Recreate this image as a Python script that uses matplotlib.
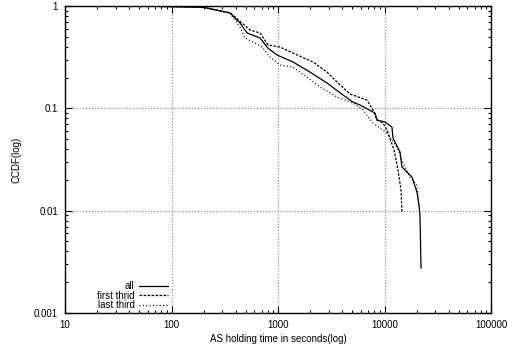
import matplotlib
matplotlib.use("Agg")
import matplotlib.pyplot as plt
from matplotlib.ticker import LogLocator, NullFormatter, FixedLocator, FixedFormatter

plt.rcParams['font.family'] = ['Liberation Sans', 'DejaVu Sans']

# holding time (s) and CCDF values
all_x = [50, 198, 354, 440, 512, 678, 805, 979, 1383, 1997, 2884, 4077, 5062,
         5888, 8147, 8506, 10110, 11750, 12020, 13990, 14590, 15570, 18110,
         20180, 21090, 21530, 22030]
all_y = [1.0, 0.971, 0.854, 0.682, 0.545, 0.487, 0.388, 0.332, 0.284, 0.226,
         0.177, 0.135, 0.115, 0.1077, 0.0899, 0.0769, 0.0735, 0.0656, 0.0513,
         0.0374, 0.0267, 0.0249, 0.0213, 0.0152, 0.0113, 0.00906, 0.00275]

first_x = [50, 198, 354, 459, 546, 678, 805, 1045, 1383, 2132, 2884, 3579,
           4742, 6850, 7802, 8506, 9684, 10550, 12300, 13400, 14290, 14590]
first_y = [1.0, 0.975, 0.86, 0.682, 0.583, 0.545, 0.416, 0.397, 0.347, 0.284,
           0.226, 0.181, 0.138, 0.1205, 0.0962, 0.0769, 0.0718, 0.0613, 0.0391,
           0.0249, 0.0159, 0.0095]

last_x = [50, 198, 354, 440, 490, 582, 708, 841, 1045, 1383, 1871, 2479, 3579,
          5062, 6283, 7802, 10550, 13100, 14930, 17340, 20180, 21090]
last_y = [1.0, 0.97, 0.85, 0.623, 0.487, 0.445, 0.397, 0.317, 0.265, 0.253,
          0.202, 0.162, 0.129, 0.113, 0.0962, 0.0718, 0.0574, 0.0419, 0.0292,
          0.0213, 0.0177, 0.0106]

x_ticks = [10, 100, 1000, 10000, 100000]
x_labels = ["10", "100", "1000", "10000", "100000"]
y_ticks = [0.001, 0.01, 0.1, 1]
y_labels = ["0.001", "0.01", "0.1", "1"]

fig = plt.figure(figsize=(5.08, 3.47), dpi=100)
ax = fig.add_axes([65 / 508, 1 - 313 / 347, 426 / 508, 307 / 347])

ax.plot(all_x, all_y, color='black', linestyle='-', linewidth=0.9, label='all')
ax.plot(first_x, first_y, color='black', linestyle=(0, (2, 1.2)), linewidth=0.9,
        label='first thrid')
ax.plot(last_x, last_y, color='black', linestyle=(0, (0.8, 1.9)), linewidth=0.9,
        label='last third')

ax.set_xscale('log')
ax.set_yscale('log')
ax.set_xlim(10, 100000)
ax.set_ylim(0.001, 1)

ax.xaxis.set_major_locator(FixedLocator(x_ticks))
ax.xaxis.set_major_formatter(FixedFormatter(x_labels))
ax.yaxis.set_major_locator(FixedLocator(y_ticks))
ax.yaxis.set_major_formatter(FixedFormatter(y_labels))
ax.xaxis.set_minor_locator(LogLocator(base=10, subs=range(2, 10), numticks=20))
ax.yaxis.set_minor_locator(LogLocator(base=10, subs=range(2, 10), numticks=20))
ax.xaxis.set_minor_formatter(NullFormatter())
ax.yaxis.set_minor_formatter(NullFormatter())

ax.tick_params(which='both', direction='in', top=True, right=True,
               labelsize=7, width=0.8)
ax.tick_params(which='major', length=5, pad=5)
ax.tick_params(which='minor', length=2.5)

ax.grid(True, which='major', color='#888888', linestyle=':', linewidth=0.8)
for s in ax.spines.values():
    s.set_linewidth(1.0)

ax.set_xlabel("AS holding time in seconds(log)", fontsize=7, labelpad=3)
ax.set_ylabel("CCDF(log)", fontsize=7, labelpad=9)

leg = ax.legend(loc='lower left', bbox_to_anchor=(0.075, 0.009), fontsize=7,
                markerfirst=False, handlelength=2.9, handletextpad=0.5,
                labelspacing=-0.05, borderpad=0.0, borderaxespad=0,
                frameon=True, fancybox=False)
leg.get_frame().set_facecolor('white')
leg.get_frame().set_edgecolor('none')
leg.get_frame().set_alpha(1)
leg.set_zorder(1.7)

plt.savefig("out.png", dpi=100)
